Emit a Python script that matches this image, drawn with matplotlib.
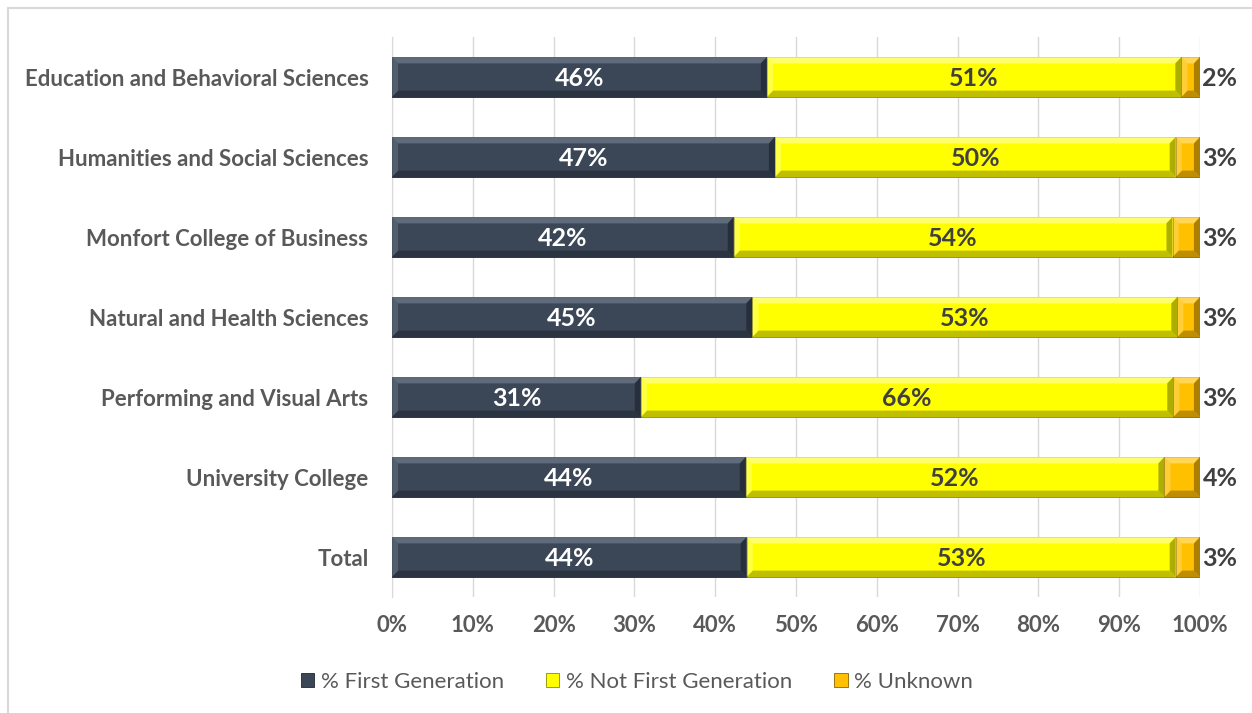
import numpy as np
import matplotlib.pyplot as plt
from matplotlib.patches import Polygon
from matplotlib.lines import Line2D
from matplotlib.ticker import PercentFormatter

colleges = [
    "Education and Behavioral Sciences",
    "Humanities and Social Sciences",
    "Monfort College of Business",
    "Natural and Health Sciences",
    "Performing and Visual Arts",
    "University College",
    "Total",
]
first_gen = [46.4, 47.4, 42.3, 44.6, 30.8, 43.8, 43.9]
not_first_gen = [51.3, 49.6, 54.3, 52.6, 65.9, 51.8, 53.1]
unknown = [2.3, 3.0, 3.4, 2.8, 3.3, 4.4, 3.0]

series = ["% First Generation", "% Not First Generation", "% Unknown"]
colors = ["#3b4656", "#ffff00", "#ffc000"]
light = ["#6f7b8c", "#ffff99", "#ffe17a"]
dark = ["#1f2631", "#8c8c00", "#8a6400"]
label_colors = ["white", "#404040", "#404040"]

plt.rcParams['font.family'] = ['Lato', 'DejaVu Sans']

fig = plt.figure(figsize=(12.52, 7.13), dpi=100)
ax = fig.add_axes([392 / 1252, 1 - 597 / 713, 808 / 1252, 560 / 713])

# light frame around the chart
fig.add_artist(Line2D([8 / 1252, 1.0], [1 - 8 / 713] * 2, color="#d9d9d9", lw=1.5))
fig.add_artist(Line2D([8 / 1252] * 2, [0, 1 - 8 / 713], color="#d9d9d9", lw=1.5))

y = np.arange(len(colleges))
h = 0.5
bx = 0.75   # bevel width in x units
by = 0.08   # bevel height in y units

left = np.zeros(len(colleges))
for i, vals in enumerate([first_gen, not_first_gen, unknown]):
    vals = np.array(vals)
    ax.barh(y, vals, left=left, height=h, color=colors[i], edgecolor=dark[i],
            linewidth=0.6, label=series[i], zorder=3)
    for yc, l, v in zip(y, left, vals):
        x0, x1 = l, l + v
        y0, y1 = yc - h / 2, yc + h / 2
        b = min(bx, v / 3)
        # bevel faces (y axis is inverted: y0 is top)
        ax.add_patch(Polygon([[x0, y0], [x1, y0], [x1 - b, y0 + by], [x0 + b, y0 + by]],
                             closed=True, color=light[i], alpha=0.7, lw=0, zorder=4))
        ax.add_patch(Polygon([[x0, y1], [x1, y1], [x1 - b, y1 - by], [x0 + b, y1 - by]],
                             closed=True, color=dark[i], alpha=0.55, lw=0, zorder=4))
        ax.add_patch(Polygon([[x0, y0], [x0 + b, y0 + by], [x0 + b, y1 - by], [x0, y1]],
                             closed=True, color=light[i], alpha=0.45, lw=0, zorder=4))
        ax.add_patch(Polygon([[x1, y0], [x1 - b, y0 + by], [x1 - b, y1 - by], [x1, y1]],
                             closed=True, color=dark[i], alpha=0.7, lw=0, zorder=4))
        if i < 2:
            ax.text(l + v / 2, yc, f"{v:.0f}%", ha="center", va="center_baseline",
                    color=label_colors[i], fontsize=18, fontweight="bold", zorder=5)
        else:
            ax.text(x1 + 0.3, yc, f"{v:.0f}%", ha="left", va="center_baseline",
                    color="#404040", fontsize=18, fontweight="bold", zorder=5)
    left = left + vals

ax.set_xlim(0, 100)
ax.set_ylim(len(colleges) - 0.5, -0.5)
ax.set_yticks(y)
ax.set_yticklabels(colleges, fontsize=16, fontweight="bold", color="#595959")
ax.set_xticks(np.arange(0, 101, 10))
ax.xaxis.set_major_formatter(PercentFormatter(decimals=0))
ax.tick_params(axis="x", labelsize=16, colors="#595959", length=0, pad=13)
ax.tick_params(axis="y", length=0, pad=17)
for lab in ax.get_xticklabels():
    lab.set_fontweight("bold")
ax.grid(axis="x", color="#d9d9d9", lw=1, zorder=0)
for s in ["top", "right", "bottom"]:
    ax.spines[s].set_visible(False)
ax.spines["left"].set_color("#d9d9d9")

leg = fig.legend(loc="center", bbox_to_anchor=(637 / 1252, 1 - 682 / 713), ncol=3,
                 frameon=False, fontsize=16, handlelength=0.6, handleheight=0.6,
                 handletextpad=0.3, columnspacing=1.9)
for t in leg.get_texts():
    t.set_color("#595959")

fig.savefig("out.png", dpi=100, facecolor="white")
